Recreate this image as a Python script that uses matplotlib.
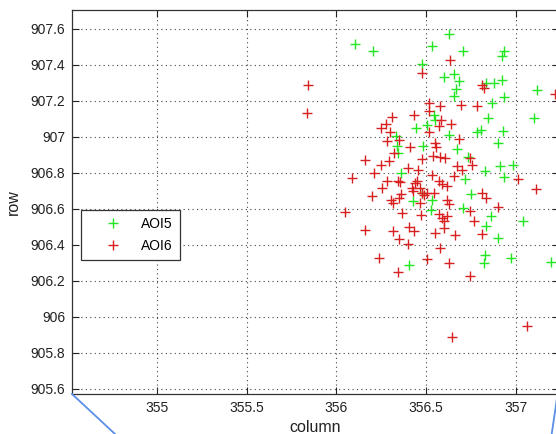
import matplotlib
matplotlib.use("Agg")
import matplotlib.pyplot as plt
from matplotlib.lines import Line2D

plt.rcParams['font.family'] = ['Liberation Sans', 'DejaVu Sans']

# AOI5 (green) points: column, row
aoi5_col = [356.627, 356.106, 356.203, 356.531, 356.706, 356.936, 356.925, 356.475,
            356.601, 356.655, 356.683, 356.665, 356.654, 356.832, 356.879, 356.922,
            356.934, 356.869, 357.118, 357.098, 356.846, 356.542, 356.551, 356.441,
            356.507, 356.627, 356.782, 356.807, 356.927, 356.899, 356.673, 356.334,
            356.339, 356.345, 356.483, 356.735, 356.913, 356.985, 356.830, 356.933,
            356.715, 356.358, 356.749, 356.425, 356.476, 356.535, 356.529, 356.707,
            356.860, 357.038, 356.836, 356.902, 356.830, 356.820, 356.975, 357.196,
            356.404]
aoi5_row = [907.571, 907.513, 907.478, 907.502, 907.478, 907.476, 907.446, 907.402,
            907.331, 907.347, 907.307, 907.267, 907.225, 907.300, 907.301, 907.317,
            907.221, 907.187, 907.261, 907.104, 907.104, 907.119, 907.094, 907.050,
            907.067, 907.011, 907.028, 907.036, 907.031, 906.967, 906.932, 907.002,
            906.946, 906.909, 906.950, 906.889, 906.839, 906.844, 906.811, 906.778,
            906.767, 906.797, 906.682, 906.642, 906.686, 906.650, 906.592, 906.604,
            906.560, 906.533, 906.503, 906.435, 906.343, 906.297, 906.326, 906.306,
            906.287]

# AOI6 (red) points: column, row
aoi6_col = [355.845, 355.834, 356.631, 356.478, 356.810, 356.821, 357.218, 356.517,
            356.577, 356.696, 356.785, 356.514, 356.309, 356.431, 356.585, 356.641,
            356.570, 356.249, 356.274, 356.298, 356.516, 356.283, 356.348, 356.411,
            356.550, 356.553, 356.684, 356.320, 356.158, 356.247, 356.292, 356.476,
            356.539, 356.579, 356.607, 356.747, 356.757, 356.208, 356.399, 356.454,
            356.672, 356.698, 356.088, 356.283, 356.345, 356.355, 356.451, 356.436,
            356.534, 356.571, 356.588, 356.616, 356.654, 357.014, 357.112, 356.254,
            356.423, 356.464, 356.479, 356.506, 356.486, 356.542, 356.426, 356.200,
            356.302, 356.348, 356.315, 356.358, 356.464, 356.617, 356.626, 356.813,
            356.832, 356.898, 356.047, 356.364, 356.471, 356.572, 356.618, 356.588,
            356.598, 356.747, 356.767, 356.158, 356.316, 356.406, 356.432, 356.349,
            356.399, 356.598, 356.550, 356.662, 356.813, 356.577, 356.240, 356.506,
            356.627, 356.342, 356.743, 357.060, 356.644]
aoi6_row = [907.289, 907.132, 907.425, 907.354, 907.286, 907.269, 907.238, 907.186,
            907.172, 907.175, 907.172, 907.141, 907.109, 907.119, 907.094, 907.072,
            907.061, 907.051, 907.068, 907.027, 907.029, 906.975, 906.983, 906.944,
            906.967, 906.942, 906.989, 906.909, 906.872, 906.842, 906.867, 906.878,
            906.892, 906.889, 906.883, 906.883, 906.844, 906.800, 906.828, 906.818,
            906.840, 906.817, 906.773, 906.753, 906.752, 906.747, 906.752, 906.744,
            906.786, 906.753, 906.735, 906.725, 906.781, 906.767, 906.708, 906.716,
            906.716, 906.717, 906.687, 906.690, 906.674, 906.689, 906.699, 906.673,
            906.650, 906.658, 906.633, 906.683, 906.633, 906.650, 906.625, 906.687,
            906.658, 906.607, 906.583, 906.578, 906.568, 906.572, 906.559, 906.550,
            906.532, 906.586, 906.532, 906.482, 906.478, 906.496, 906.477, 906.433,
            906.404, 906.494, 906.467, 906.456, 906.462, 906.383, 906.326, 906.323,
            906.297, 906.246, 906.226, 905.946, 905.886]

series_labels = ['AOI5', 'AOI6']
x_ticks = [355, 355.5, 356, 356.5, 357]
x_ticklabels = ['355', '355.5', '356', '356.5', '357']
y_ticks = [905.6, 905.8, 906, 906.2, 906.4, 906.6, 906.8, 907, 907.2, 907.4, 907.6]
y_ticklabels = ['905.6', '905.8', '906', '906.2', '906.4', '906.6', '906.8',
                '907', '907.2', '907.4', '907.6']

W, H = 556, 434
fig = plt.figure(figsize=(W / 100, H / 100), dpi=100)
ax_l, ax_r, ax_t, ax_b = 72, 559, 10, 394
ax = fig.add_axes([ax_l / W, 1 - ax_b / H, (ax_r - ax_l) / W, (ax_b - ax_t) / H])

green = '#22e622'
red = '#d92020'
ms = 7.5
ax.plot(aoi5_col, aoi5_row, linestyle='none', marker='+', color=green,
        markersize=ms, markeredgewidth=1.0, label=series_labels[0])
ax.plot(aoi6_col, aoi6_row, linestyle='none', marker='+', color=red,
        markersize=ms, markeredgewidth=1.0, label=series_labels[1])

ax.set_xlim(354.528, 357.24)
ax.set_ylim(905.571, 907.704)
ax.set_xticks(x_ticks)
ax.set_xticklabels(x_ticklabels)
ax.set_yticks(y_ticks)
ax.set_yticklabels(y_ticklabels)

ax.grid(True, color='#444444', linestyle=(0, (1, 3)), linewidth=0.8)
ax.tick_params(direction='in', length=5, width=0.8, top=True, right=True,
               labelsize=10, colors='#222222', pad=5)
for s in ax.spines.values():
    s.set_color('#333333')
    s.set_linewidth(0.9)

ax.set_xlabel('column', fontsize=11.5, color='#222222', labelpad=4)
ax.set_ylabel('row', fontsize=11.5, color='#222222', labelpad=7)

leg = ax.legend(loc='upper left', bbox_to_anchor=(81 / W, 1 - 210 / H),
                bbox_transform=fig.transFigure, borderaxespad=0,
                fontsize=10, handlelength=3.6, handletextpad=0.22,
                borderpad=0.5, labelspacing=0.55, fancybox=False,
                framealpha=1, edgecolor='#333333')
leg.get_frame().set_linewidth(0.9)

# blue connector lines (annotation decoration, outside the axes)
fig.add_artist(Line2D([72 / W, 115 / W], [1 - 394 / H, 0], transform=fig.transFigure,
                      color='#5b8fe8', linewidth=1.3))
fig.add_artist(Line2D([557 / W, 551.7 / W], [1 - 398 / H, 0], transform=fig.transFigure,
                      color='#5b8fe8', linewidth=1.3))

fig.savefig('out.png', dpi=100)
